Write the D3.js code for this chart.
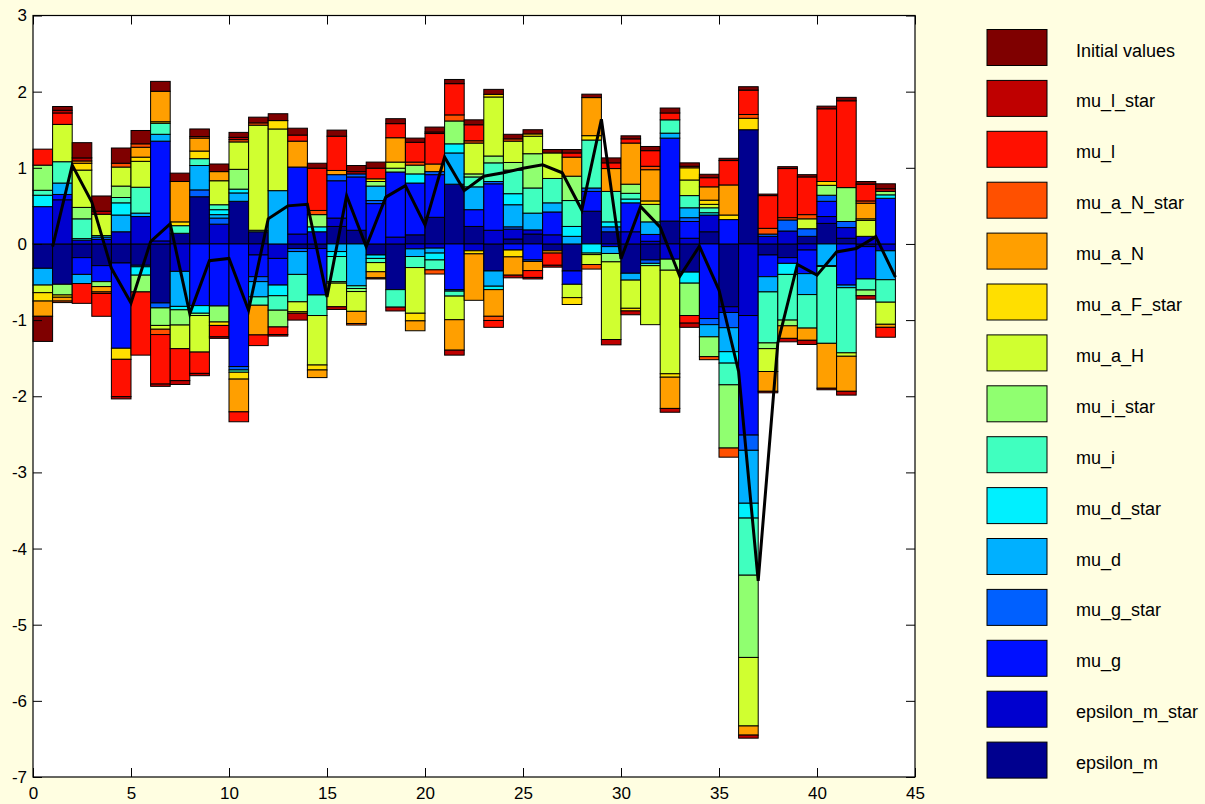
<!DOCTYPE html>
<html lang="en">
<head>
<meta charset="utf-8">
<title>Shock decomposition</title>
<script src="https://d3js.org/d3.v7.min.js"></script>
<style>
	body { margin: 0; background: #fffee1; }
	text { font-family: "Liberation Sans", Arial, sans-serif; }
</style>
</head>
<body>
<div id="chart"></div>
<script>
// periods on the x axis (bar k spans k-1..k, line point at k)
const periods = d3.range(1, 45);
const xTicks = [0, 5, 10, 15, 20, 25, 30, 35, 40, 45];
const yTicks = [-7, -6, -5, -4, -3, -2, -1, 0, 1, 2, 3];

// contributions per period
const epsilon_m      = [-0.32,-0.53,-0.18,-0.285,-0.25,-0.28,-0.775,0.14,0.62,0,0.56,0.16,0,-0.06,-0.06,0.23,0.18,-0.145,-0.6,0.12,0.35,0.785,0.23,-0.355,0.065,0.13,-0.09,-0.355,0.43,0.16,-0.385,-0.21,0.3,-0.37,0.16,-0.825,1.5,-0.145,-0.18,0.1,0.27,0.075,-0.035,0];
const epsilon_m_star = [0,0.58,0.05,0.06,0.16,0.36,0.04,-0.36,0,0.26,0,-0.145,-0.19,0.13,0.16,0.11,0,0,0.09,-0.065,-0.055,0,-0.09,0.18,0.13,0.055,0.12,0,0,-0.035,0.16,0.035,-0.2,0.075,0.22,-0.075,-0.94,0.1,0.17,-0.08,0.09,0.14,0.1,-0.09];
const mu_g           = [0.49,0.07,-0.22,-0.21,-1.12,0,1.31,0,-0.81,-0.815,-1.61,-0.285,-0.35,0.88,-0.61,0.49,0.7,0.53,0.855,0.68,0.56,-0.6,0.22,0.61,-0.08,-0.21,0.3,-0.175,0.26,0,0.38,0.09,1.09,0.22,-0.98,0.32,-1.57,-0.285,-0.075,-0.31,0.2,-0.54,-0.425,0.6];
const mu_g_star      = [0,0,0,0.03,0,-0.02,-0.065,0,0.09,0.08,-0.045,-0.065,0,-0.04,0,0.08,0.04,0.04,0,0,0.04,-0.02,0,0.03,0.03,-0.02,0,0,0.045,0.065,0,-0.045,0,0.05,-0.08,-0.2,-0.2,0.03,0.145,0.1,0.08,0.08,0,0];
const mu_d           = [-0.22,0.15,-0.12,0,0.22,0.045,0.09,-0.46,0.32,0.045,0.11,-0.2,0.7,-0.3,0,-0.1,-0.55,0.19,0,-0.1,-0.065,0.41,0.3,-0.2,0.29,0.22,0.12,0.1,0,-0.09,-0.09,0.165,0.065,0.13,-0.16,-0.315,-0.695,-0.2,0,-0.275,-0.285,-0.035,0,-0.38];
const mu_d_star      = [0.15,0,0.02,0.02,0.16,-0.11,0,-0.045,-0.1,0.065,0.05,0,-0.14,0,0.065,-0.065,0,-0.045,0,0.12,-0.09,0.12,0,-0.045,0.145,0,0,0.13,-0.12,0.065,0.05,0,0,-0.145,0.03,-0.15,-0.195,0,-0.145,0,-0.01,0,0,0.045];
const mu_i           = [0.065,0.28,0.26,0,0.07,0.34,0.145,0.1,0.09,0.065,-0.03,-0.11,-0.19,-0.36,-0.27,-0.33,-0.035,-0.055,-0.23,-0.145,-0.13,-0.065,0.13,0.245,0.31,0.33,0.32,0.34,0.63,0.4,0.075,-0.03,0.175,0.16,0.065,-0.285,-0.75,-0.67,-0.6,-0.44,-1.01,-0.855,-0.145,-0.295];
const mu_i_star      = [0.33,-0.14,0.15,-0.065,0.15,-0.22,-0.23,-0.2,-0.03,-0.21,0.26,0.02,-0.22,0,0.16,-0.02,-0.04,0.06,0.05,0.115,0,0.3,0.04,0.09,0.1,0.45,0,0.32,-0.02,-0.11,0.12,0.23,-0.145,-0.425,-0.26,-0.83,-1.08,-0.075,-0.075,0,0.13,0.445,-0.075,0.045];
const mu_a_H         = [-0.1,0.49,0.49,0.28,0.25,0.34,-0.05,-0.31,-0.48,0.315,0.36,1.38,0.81,-0.13,-0.65,-0.31,-0.26,-0.12,0.08,-0.6,0,-0.31,0.405,0.775,0.28,0.23,0.335,-0.175,-0.13,-1.02,-0.37,-0.775,-1.36,0.205,0.045,0,-0.9,-0.3,0,0.13,0,-0.045,0.21,-0.29];
const mu_a_F_star    = [-0.11,-0.03,0.09,0,-0.145,0.055,0.02,0.05,0.1,-0.045,-0.09,0,0.11,-0.02,-0.065,0,0,0.035,0,-0.1,0,0,-0.04,0.035,-0.09,0.03,0,-0.09,0.057,0,-0.035,0.045,-0.045,0.16,0.055,0.06,0.15,0,0,0,0.05,0,0.02,0];
const mu_a_N         = [-0.2,-0.05,0.03,-0.07,0,0.13,0.4,0.53,0.17,0.12,-0.43,-0.39,0,0.34,-0.1,0.055,-0.16,-0.08,0.32,-0.13,0.1,-0.4,-0.61,-0.35,-0.24,-0.12,-0.03,0.25,0.5,0.3,0.54,0.41,-0.41,0,0.175,0.395,-0.12,-0.26,-0.165,-0.16,-0.59,-0.46,0.205,-0.04];
const mu_a_N_star    = [0,-0.02,0,-0.02,0.05,0.045,-0.07,0,0.02,0,0.03,0.03,0,0,0.055,0,-0.02,-0.015,0,0.04,-0.055,0.08,0.03,-0.055,0.03,0,0,0,-0.06,0,0,0.045,0,0.02,-0.04,-0.12,0.05,0.075,0.03,0.055,0,0,0.03,0];
const mu_l           = [0.21,0.15,-0.26,-0.3,-0.49,-0.83,-0.65,-0.42,-0.28,-0.15,-0.13,-0.14,-0.1,0.08,0.555,0.45,0,0.14,0.185,0.26,0.4,0.41,0.21,-0.09,0,-0.09,-0.16,0.055,0,0.075,0.055,0.205,0.09,-0.1,0.12,0.32,0.32,0.43,0.645,0.495,0.955,1.14,0.22,-0.13];
const mu_l_star      = [0,0.035,0.04,0.04,-0.03,0,-0.03,-0.05,-0.03,-0.02,0.03,0,-0.02,-0.09,0,-0.035,0.03,0,-0.05,0,0.02,-0.065,0,0,-0.035,-0.02,-0.025,0,0,-0.07,-0.05,0,-0.05,-0.055,0,0,-0.04,-0.02,-0.045,-0.055,-0.02,-0.05,-0.045,0.035];
const initial_values = [-0.33,0.05,0.2,0.2,0.2,0.175,0.13,0.11,0.1,0.1,0.065,0.075,0.09,0.09,0.065,0.08,0.08,0.08,0.065,0.055,0.065,0.055,0.065,0.065,0.06,0.055,0.045,0.045,0.045,0.065,0.04,0.055,0.065,0.045,0.045,0.03,0.045,0.02,0.025,0.03,0.035,0.045,0.035,0.065];

// stacking order: closest to zero first
const series = [
	{ name: "epsilon_m",      values: epsilon_m,      color: "#00008f" },
	{ name: "epsilon_m_star", values: epsilon_m_star, color: "#0000cf" },
	{ name: "mu_g",           values: mu_g,           color: "#0010ff" },
	{ name: "mu_g_star",      values: mu_g_star,      color: "#0060ff" },
	{ name: "mu_d",           values: mu_d,           color: "#00b0ff" },
	{ name: "mu_d_star",      values: mu_d_star,      color: "#00f0ff" },
	{ name: "mu_i",           values: mu_i,           color: "#40ffbf" },
	{ name: "mu_i_star",      values: mu_i_star,      color: "#90ff70" },
	{ name: "mu_a_H",         values: mu_a_H,         color: "#d0ff30" },
	{ name: "mu_a_F_star",    values: mu_a_F_star,    color: "#ffdf00" },
	{ name: "mu_a_N",         values: mu_a_N,         color: "#ff9f00" },
	{ name: "mu_a_N_star",    values: mu_a_N_star,    color: "#ff5000" },
	{ name: "mu_l",           values: mu_l,           color: "#ff1000" },
	{ name: "mu_l_star",      values: mu_l_star,      color: "#bf0000" },
	{ name: "Initial values", values: initial_values, color: "#7f0000" }
];

let width = 1205, height = 804;
let svg = d3.select("#chart").append("svg")
	.attr("width", width)
	.attr("height", height)
	.style("display", "block");

svg.append("rect").attr("width", width).attr("height", height).attr("fill", "#fffee1");

let x = d3.scaleLinear().domain([0, 45]).range([33, 915]);
let y = d3.scaleLinear().domain([-7, 3]).range([777, 15.5]);

// plot area
svg.append("rect")
	.attr("x", x(0)).attr("y", y(3))
	.attr("width", x(45) - x(0)).attr("height", y(-7) - y(3))
	.attr("fill", "#ffffff");

// build stacked segments, positives up from zero and negatives down
let segs = [];
periods.forEach(function(p, k) {
	let pos = 0, neg = 0;
	series.forEach(function(s) {
		let v = s.values[k];
		if (v === 0) return;
		let a, b;
		if (v > 0) { a = pos; pos += v; b = pos; }
		else { a = neg; neg += v; b = neg; }
		segs.push({ p: p, lo: Math.min(a, b), hi: Math.max(a, b), color: s.color });
	});
});

svg.append("g").selectAll("rect")
	.data(segs)
	.enter()
	.append("rect")
	.attr("x", d => x(d.p - 1))
	.attr("width", d => x(d.p) - x(d.p - 1))
	.attr("y", d => y(d.hi))
	.attr("height", d => y(d.lo) - y(d.hi))
	.attr("fill", d => d.color)
	.attr("stroke", "#000")
	.attr("stroke-width", 1);

// total line
let totals = periods.map((p, k) => ({ p: p, v: d3.sum(series, s => s.values[k]) }));
svg.append("path")
	.datum(totals)
	.attr("fill", "none")
	.attr("stroke", "#000")
	.attr("stroke-width", 3)
	.attr("stroke-linejoin", "miter")
	.attr("d", d3.line().x(d => x(d.p)).y(d => y(d.v)));

// axes, ticks pointing inward; plain hyphen for negatives
let fmt = d => String(d);
let gl = svg.append("g").attr("transform", "translate(" + x(0) + ",0)")
	.call(d3.axisLeft(y).tickValues(yTicks).tickSizeInner(-9).tickSizeOuter(0).tickPadding(6).tickFormat(fmt));
let gr = svg.append("g").attr("transform", "translate(" + x(45) + ",0)")
	.call(d3.axisRight(y).tickValues(yTicks).tickSizeInner(-9).tickSizeOuter(0).tickFormat(""));
let gb = svg.append("g").attr("transform", "translate(0," + y(-7) + ")")
	.call(d3.axisBottom(x).tickValues(xTicks).tickSizeInner(-9).tickSizeOuter(0).tickPadding(10).tickFormat(fmt));
let gt = svg.append("g").attr("transform", "translate(0," + y(3) + ")")
	.call(d3.axisTop(x).tickValues(xTicks).tickSizeInner(-9).tickSizeOuter(0).tickFormat(""));
[gl, gr, gb, gt].forEach(function(g) {
	g.select(".domain").remove();
	g.selectAll("text").attr("font-size", 17).attr("fill", "#000")
		.style("font-family", "'Liberation Sans', Arial, sans-serif");
	g.selectAll("line").attr("stroke", "#000");
});

svg.append("rect")
	.attr("x", x(0)).attr("y", y(3))
	.attr("width", x(45) - x(0)).attr("height", y(-7) - y(3))
	.attr("fill", "none").attr("stroke", "#000").attr("stroke-width", 1.2);

// legend, top entry is the last stacked series
let legendItems = series.slice().reverse();
let lg = svg.append("g").selectAll("g")
	.data(legendItems)
	.enter()
	.append("g")
	.attr("transform", (d, i) => "translate(987," + (29.5 + i * 50.9) + ")");
lg.append("rect")
	.attr("width", 60).attr("height", 36)
	.attr("fill", d => d.color)
	.attr("stroke", "#000").attr("stroke-width", 1);
lg.append("text")
	.attr("x", 89).attr("y", 27)
	.attr("font-size", 18)
	.attr("fill", "#000")
	.text(d => d.name);
</script>
</body>
</html>
